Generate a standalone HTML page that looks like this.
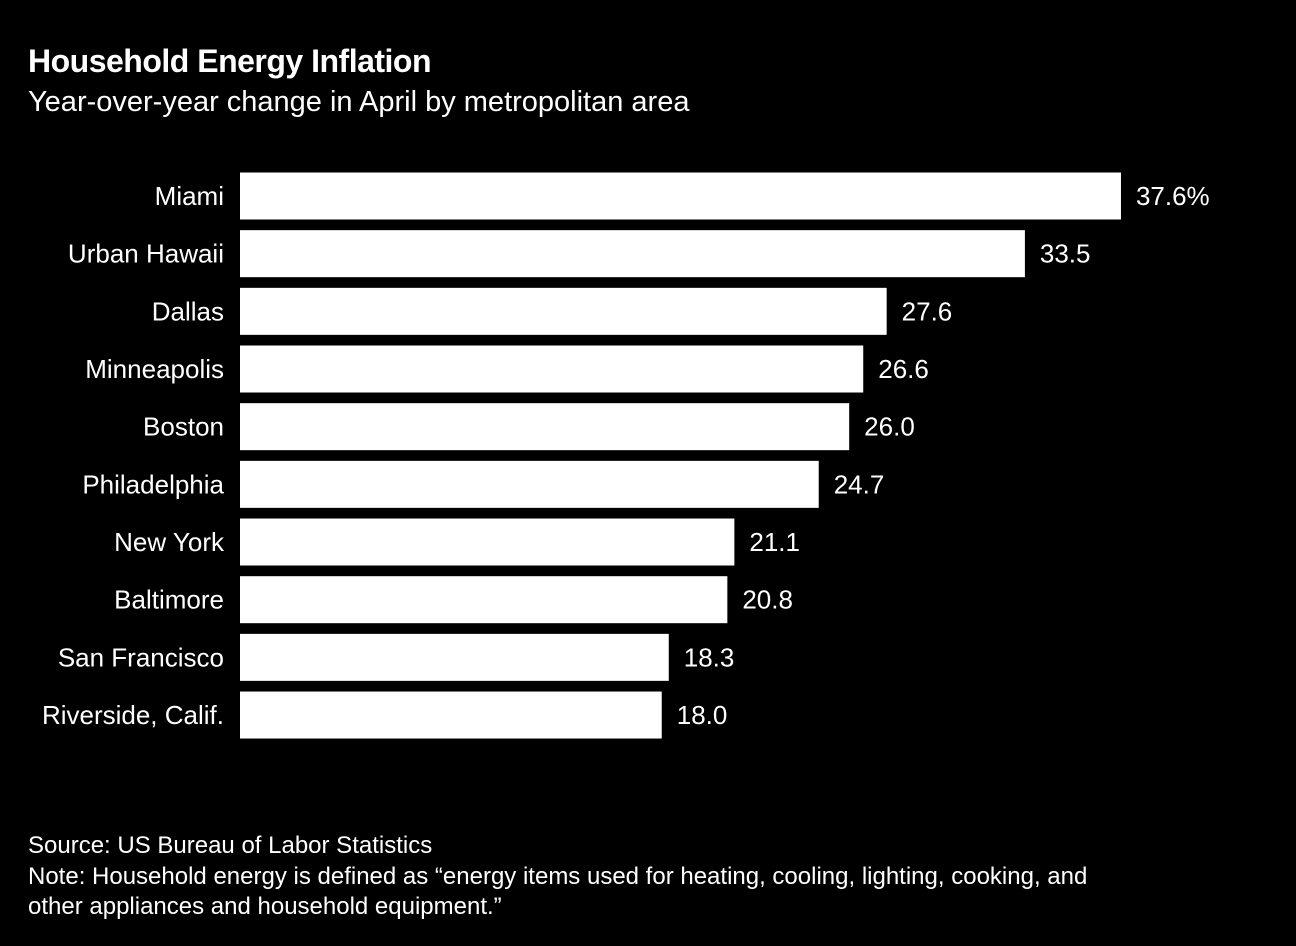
<!DOCTYPE html>
<html><head><meta charset="utf-8"><style>
body{margin:0;background:#000;width:1296px;height:946px;overflow:hidden;font-family:"Liberation Sans",sans-serif;color:#fff}
.t{position:absolute;left:28px;white-space:nowrap}
</style></head><body>
<div class="t" style="top:43px;font-size:32px;font-weight:bold;letter-spacing:-0.5px">Household Energy Inflation</div>
<div class="t" style="top:86px;font-size:29px">Year-over-year change in April by metropolitan area</div>
<svg id="chart" width="1296" height="946" style="position:absolute;left:0;top:0"></svg>
<div class="t" style="top:831px;font-size:24px;line-height:30.5px">Source: US Bureau of Labor Statistics<br>Note: Household energy is defined as “energy items used for heating, cooling, lighting, cooking, and<br>other appliances and household equipment.”</div>
<script>
const categories=["Miami","Urban Hawaii","Dallas","Minneapolis","Boston","Philadelphia","New York","Baltimore","San Francisco","Riverside, Calif."];
const values=[37.6,33.5,27.6,26.6,26.0,24.7,21.1,20.8,18.3,18.0];
const valueLabels=["37.6%","33.5","27.6","26.6","26.0","24.7","21.1","20.8","18.3","18.0"];
const svg=document.getElementById('chart');
const NS="http://www.w3.org/2000/svg";
const x0=240, k=23.43;
const xs=v=>x0+v*k;
const yc=i=>196+i*57.67;
const bh=47;
categories.forEach((c,i)=>{
  const r=document.createElementNS(NS,'rect');
  
  
  r.setAttribute('x',x0);r.setAttribute('y',yc(i)-bh/2);
  r.setAttribute('width',xs(values[i])-x0);r.setAttribute('height',bh);r.setAttribute('fill','#fff');
  svg.appendChild(r);
  const l=document.createElementNS(NS,'text');
  
  
  l.setAttribute('x',224);l.setAttribute('y',yc(i)+9);l.setAttribute('text-anchor','end');
  l.setAttribute('fill','#fff');l.setAttribute('font-size','26');l.setAttribute('font-family','Liberation Sans, sans-serif');
  l.textContent=c;svg.appendChild(l);
  const v=document.createElementNS(NS,'text');
  
  
  v.setAttribute('x',xs(values[i])+15);v.setAttribute('y',yc(i)+9);
  v.setAttribute('fill','#fff');v.setAttribute('font-size','26');v.setAttribute('font-family','Liberation Sans, sans-serif');
  v.textContent=valueLabels[i];svg.appendChild(v);
});
</script>
</body></html>
